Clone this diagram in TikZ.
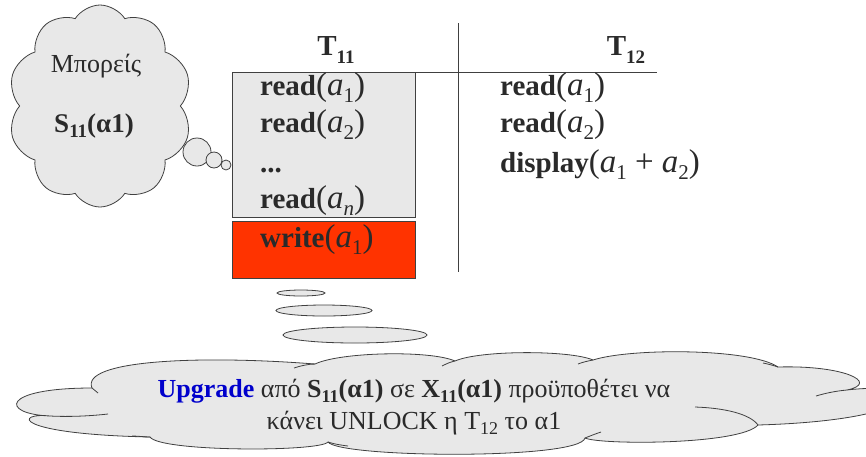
\documentclass[tikz,border=0pt]{standalone}
\usepackage{fontspec}
\setmainfont{Liberation Serif}
\usetikzlibrary{shapes.symbols,shapes.geometric}
\definecolor{ink}{HTML}{2A2A2A}
\definecolor{edge}{HTML}{404040}
\definecolor{paper}{HTML}{E8E8E8}
\definecolor{hot}{HTML}{FF3300}
\definecolor{upblue}{HTML}{0000CC}
\tikzset{
  op/.style={anchor=base west, inner sep=0pt, text=ink, font=\fontsize{29}{34}\selectfont},
  head/.style={anchor=base, inner sep=0pt, text=ink, font=\fontsize{29}{34}\selectfont\bfseries},
  puff/.style={cloud, draw=edge, fill=paper, line width=0.8pt, cloud ignores aspect},
  bubble/.style={draw=edge, fill=paper, line width=0.8pt},
  rule/.style={draw=edge, line width=0.9pt},
  seam/.style={draw=edge, line width=0.8pt},
}
% lowered subscript: drop, size, text
\newcommand{\dn}[3]{\raisebox{-#1}{\fontsize{#2}{#2}\selectfont #3}}
% argument lists are set a little larger than the keywords
\newcommand{\args}[1]{{\fontsize{33}{34}\selectfont(#1)}}
\newcommand{\av}[1]{\textit{a}\dn{7pt}{21}{#1}}
\begin{document}
\begin{tikzpicture}[x=1pt,y=-1pt]
\useasboundingbox (0,0) rectangle (866,456);
\clip (0,0) rectangle (866,456);

% schedule grid
\draw[rule] (458,23) -- (458,272);
\draw[rule] (250,72) -- (657,72);

% highlighted blocks of T11
\node[draw=edge, fill=paper, line width=0.8pt, minimum width=183pt, minimum height=145pt, anchor=north west, inner sep=0pt] (shared) at (232,72) {};
\node[draw=edge, fill=hot, line width=0.8pt, minimum width=183pt, minimum height=57pt, anchor=north west, inner sep=0pt] (excl) at (232,221) {};

% column headers
\node[head] (t11) at (336,55) {T\dn{8pt}{19}{11}};
\node[head] (t12) at (626,55) {T\dn{8pt}{19}{12}};

% operations of T11
\node[op] (r1) at (260,95) {\textbf{read}\args{\av{1}}};
\node[op] (r2) at (260,132) {\textbf{read}\args{\av{2}}};
\node[op] (dots) at (260,172) {\textbf{...}};
\node[op] (rn) at (260,208) {\textbf{read}\args{\av{\textit{n}}}};
\node[op] (w1) at (260,247) {\textbf{write}\args{\av{1}}};

% operations of T12
\node[op] (s1) at (500,95) {\textbf{read}\args{\av{1}}};
\node[op] (s2) at (500,132) {\textbf{read}\args{\av{2}}};
\node[op] (s3) at (500,172) {\textbf{display}\args{\av{1} + \av{2}}};

% thought cloud with its trailing bubbles
\node[puff, cloud puffs=10, cloud puff arc=115, minimum width=184pt, minimum height=202pt] (think) at (100,106) {};
\node[text=ink, font=\fontsize{26}{30}\selectfont, inner sep=0pt, anchor=base] (may) at (96,72) {Μπορείς};
\node[text=ink, font=\fontsize{27}{30}\selectfont\bfseries, inner sep=0pt, anchor=base] (lock) at (94,132) {S\dn{5pt}{19}{11}(α1)};
\node[bubble, circle, minimum size=28pt, inner sep=0pt] (b1) at (197,152) {};
\node[bubble, circle, minimum size=16pt, inner sep=0pt] (b2) at (214,160) {};
\node[bubble, circle, minimum size=10pt, inner sep=0pt] (b3) at (226,165) {};

% trail of ellipses towards the lower cloud
\node[bubble, ellipse, minimum width=48pt, minimum height=6pt, inner sep=0pt] (e1) at (301,293) {};
\node[bubble, ellipse, minimum width=96pt, minimum height=11pt, inner sep=0pt] (e2) at (324,310.5) {};
\node[bubble, ellipse, minimum width=144pt, minimum height=16pt, inner sep=0pt] (e3) at (355,335) {};

% lower cloud: outer outline made of puffs
\coordinate (j11) at (50,416);
\coordinate (j1) at (92,388);
\coordinate (j2) at (315,364);
\coordinate (j3) at (455,361);
\coordinate (j4) at (593,360);
\coordinate (j5) at (778,367);
\coordinate (j6) at (847,390);
\coordinate (j7) at (758,425);
\coordinate (j8) at (585,438);
\coordinate (j9) at (328,442);
\coordinate (j10) at (150,437);
\draw[seam, fill=paper]
  (j11) .. controls (0,414) and (0,388) .. (j1)
  .. controls (80,360) and (200,355) .. (j2)
  .. controls (340,352) and (430,350) .. (j3)
  .. controls (480,350) and (570,350) .. (j4)
  .. controls (630,348) and (750,348) .. (j5)
  .. controls (845,365) and (880,383) .. (j6)
  .. controls (930,380) and (930,420) .. (j7)
  .. controls (740,445) and (600,445) .. (j8)
  .. controls (580,460) and (340,458) .. (j9)
  .. controls (320,452) and (160,452) .. (j10)
  .. controls (10,434) and (15,412) .. cycle;
% inner seams where the puffs overlap
\draw[seam] (j11) .. controls (70,417) and (90,416) .. (108,414);
\draw[seam] (j1) .. controls (94,390) and (96,391) .. (98,393);
\draw[seam] (j2) .. controls (308,364) and (300,366) .. (294,368);
\draw[seam] (j3) .. controls (450,362) and (446,364) .. (442,366);
\draw[seam] (j4) .. controls (588,361) and (583,362) .. (578,364);
\draw[seam] (j5) .. controls (772,365) and (768,364) .. (763,363);
\draw[seam] (j6) .. controls (836,391) and (826,393) .. (816,396);
\draw[seam] (j7) .. controls (750,414) and (725,408) .. (695,407);
\draw[seam] (j8) .. controls (590,436) and (595,434) .. (601,432);
\draw[seam] (j9) .. controls (334,444) and (340,445) .. (348,446);
\draw[seam] (j10) .. controls (144,437) and (138,436) .. (132,436);

% remark inside the lower cloud
\node[text=ink, font=\fontsize{26}{32}\selectfont, inner sep=0pt, anchor=base] (msg1) at (414,397)
  {\textcolor{upblue}{\textbf{Upgrade}} από \textbf{S\dn{5.5pt}{18}{11}(α1)} σε \textbf{X\dn{5.5pt}{18}{11}(α1)} προϋποθέτει να};
\node[text=ink, font=\fontsize{26}{32}\selectfont, inner sep=0pt, anchor=base] (msg2) at (414,429)
  {κάνει UNLOCK η T\dn{5.5pt}{18}{12} το α1};
\end{tikzpicture}
\end{document}
